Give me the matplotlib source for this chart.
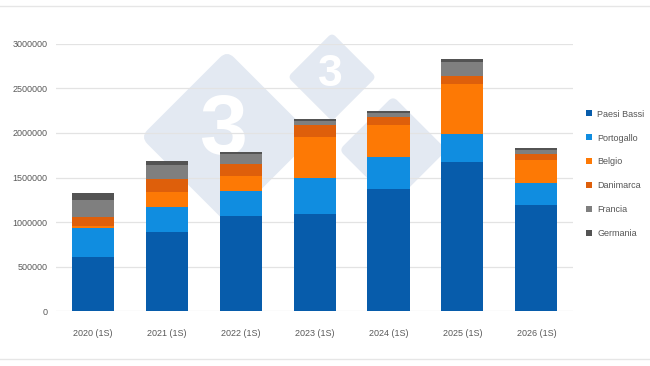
import matplotlib
matplotlib.use("Agg")
import matplotlib.pyplot as plt
import numpy as np
from matplotlib.patches import FancyBboxPatch, Patch
from matplotlib.transforms import Affine2D

plt.rcParams["font.family"] = ["Liberation Sans", "DejaVu Sans"]

# Dati
years = ["2020 (1S)", "2021 (1S)", "2022 (1S)", "2023 (1S)", "2024 (1S)", "2025 (1S)", "2026 (1S)"]
paesi_bassi = [610000, 890000, 1065000, 1090000, 1375000, 1675000, 1190000]
portogallo = [320000, 275000, 280000, 405000, 355000, 315000, 250000]
belgio = [20000, 175000, 170000, 460000, 365000, 555000, 255000]
danimarca = [110000, 145000, 140000, 135000, 85000, 100000, 65000]
francia = [190000, 160000, 110000, 40000, 45000, 150000, 50000]
germania = [75000, 45000, 25000, 25000, 25000, 35000, 25000]

series = [
    ("Paesi Bassi", paesi_bassi, "#075cab"),
    ("Portogallo", portogallo, "#108de0"),
    ("Belgio", belgio, "#fd7905"),
    ("Danimarca", danimarca, "#de5f0b"),
    ("Francia", francia, "#7f7f7f"),
    ("Germania", germania, "#535353"),
]

fig = plt.figure(figsize=(6.5, 3.66), dpi=100)
fig.patch.set_facecolor("white")

# filigrana (coordinate in pixel dell'immagine)
px = Affine2D().scale(1 / 100) + fig.dpi_scale_trans
H = 366


def diamond(cx, cy, half, digit_size, dx=0, dy=0):
    cy = H - cy
    side = half * 1.36
    rot = Affine2D().rotate_deg_around(cx, cy, 45) + px
    box = FancyBboxPatch((cx - side / 2, cy - side / 2), side, side,
                         boxstyle=f"round,pad=0,rounding_size={side * 0.08}",
                         facecolor="#e3e9f2", edgecolor="none", transform=rot, zorder=-2)
    fig.patches.append(box)
    if digit_size:
        fig.text(cx + dx, cy + dy, "3", transform=px, fontsize=digit_size, fontweight="bold",
                 color="white", ha="center", va="center", zorder=-1)


diamond(227, 137, 90, 62, dx=-4, dy=5)
diamond(332, 77, 46, 32, dx=-2, dy=2)
diamond(393, 150, 56, 36, dx=5, dy=-18)

# grafico
ax = fig.add_axes([0.086, 0.150, 0.796, 0.730])
ax.set_zorder(1)
ax.patch.set_alpha(0)
x = np.arange(len(years))
bottom = np.zeros(len(years))
for name, vals, col in series:
    ax.bar(x, vals, width=0.57, bottom=bottom, color=col, label=name, zorder=3)
    bottom += np.array(vals)

ax.set_ylim(0, 3000000)
ax.set_xlim(-0.5, len(years) - 0.5)
ax.set_yticks(np.arange(0, 3000001, 500000))
ax.yaxis.set_major_formatter(matplotlib.ticker.FuncFormatter(lambda v, p: f"{v:.0f}"))
ax.set_xticks(x)
ax.set_xticklabels(years)
ax.grid(True, axis="y", color="#e3e3e3", linewidth=0.9, zorder=1)
ax.set_axisbelow(True)
for s in ax.spines.values():
    s.set_visible(False)
ax.tick_params(axis="both", length=0, labelsize=6.5, colors="#595959")
ax.tick_params(axis="y", pad=6)
ax.tick_params(axis="x", pad=13)

handles = [Patch(facecolor=c, edgecolor="none") for _, _, c in series]
labels = [n for n, _, _ in series]
leg = fig.legend(handles, labels, loc="center left", bbox_to_anchor=(0.889, 0.525), frameon=False,
                 fontsize=6.5, labelspacing=1.65, handlelength=0.65, handleheight=0.65,
                 handletextpad=0.6, labelcolor="#555555")
leg.set_zorder(2)

# linee di bordo
fig.add_artist(plt.Line2D([0, 1], [1 - 6 / H, 1 - 6 / H], color="#e6e6e6", linewidth=1))
fig.add_artist(plt.Line2D([0, 1], [1 - 359 / H, 1 - 359 / H], color="#e6e6e6", linewidth=1))

fig.savefig("out.png", dpi=100, facecolor="white")
